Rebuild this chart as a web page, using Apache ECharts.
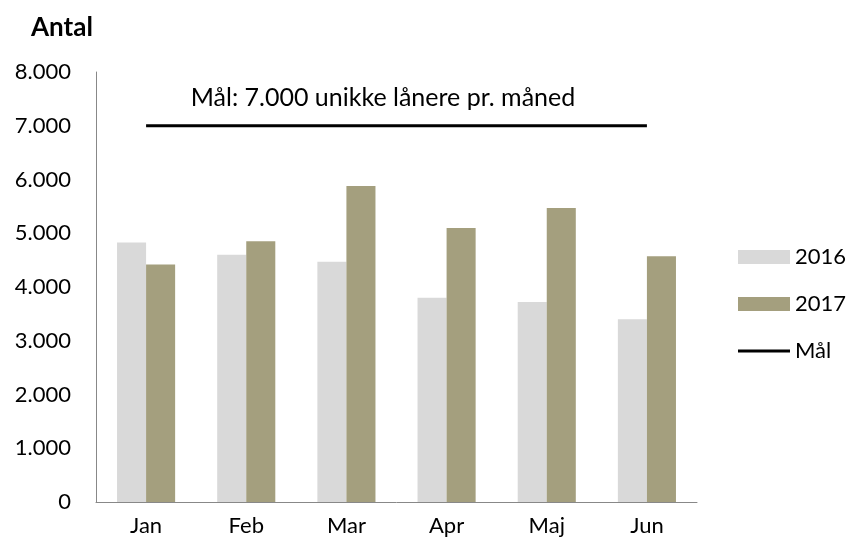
<!DOCTYPE html>
<html>
<head>
<meta charset="utf-8">
<script src="https://cdn.jsdelivr.net/npm/echarts@6/dist/echarts.min.js"></script>
<style>
  html, body { margin: 0; padding: 0; background: #fff; }
  #chart { width: 852px; height: 547px; }
</style>
</head>
<body>
<div id="chart"></div>
<script>
const months = ["Jan", "Feb", "Mar", "Apr", "Maj", "Jun"]
const antal2016 = [4830, 4600, 4470, 3800, 3720, 3400]
const antal2017 = [4420, 4850, 5880, 5100, 5470, 4570]
const maal = [7000, 7000, 7000, 7000, 7000, 7000]
const yTicks = { min: 0, max: 8000, step: 1000 }

const font = "Lato, 'Open Sans', sans-serif"

const chart = echarts.init(document.getElementById("chart"))
chart.setOption({
  animation: false,
  textStyle: { fontFamily: font },
  title: {
    text: "Antal",
    left: 26,
    top: 10,
    textStyle: { fontFamily: font, fontSize: 26, fontWeight: "bold", color: "#000" }
  },
  graphic: [{
    type: "text",
    x: 383,
    y: 98,
    style: {
      text: "Mål: 7.000 unikke lånere pr. måned",
      font: "25px " + font, fill: "#000",
      align: "center", verticalAlign: "middle"
    }
  }],
  legend: {
    orient: "vertical",
    left: 738,
    top: 246,
    padding: 0,
    itemWidth: 52,
    itemHeight: 14,
    itemGap: 25,
    itemTextGap: 6,
    textStyle: { fontFamily: font, fontSize: 22, color: "#000" },
    data: [
      { name: "2016", icon: "rect" },
      { name: "2017", icon: "rect" },
      { name: "Mål", icon: "path://M0,0 M0,5.5 H52 V8.5 H0 Z M52,14" }
    ]
  },
  grid: { left: 96, right: 155, top: 72, bottom: 45 },
  xAxis: {
    type: "category",
    data: months,
    axisLine: { lineStyle: { color: "#888", width: 1 } },
    axisTick: { show: false },
    axisLabel: { fontFamily: font, fontSize: 22, color: "#000", margin: 13 }
  },
  yAxis: {
    type: "value",
    min: yTicks.min,
    max: yTicks.max,
    interval: yTicks.step,
    axisLine: { show: true, lineStyle: { color: "#888", width: 1 } },
    axisTick: { show: false },
    splitLine: { show: false },
    axisLabel: {
      fontFamily: font, fontSize: 22, color: "#000", margin: 25,
      formatter: v => v === 0 ? "0" : (v / 1000) + ".000"
    }
  },
  series: [
    {
      name: "2016", type: "bar", data: antal2016,
      itemStyle: { color: "#d9d9d9" },
      barGap: "0%", barCategoryGap: "42%"
    },
    {
      name: "2017", type: "bar", data: antal2017,
      itemStyle: { color: "#a49f7e" }
    },
    {
      name: "Mål", type: "line", data: maal,
      symbol: "none",
      lineStyle: { color: "#000", width: 3 },
      itemStyle: { color: "#000" }
    }
  ]
})
</script>
</body>
</html>
